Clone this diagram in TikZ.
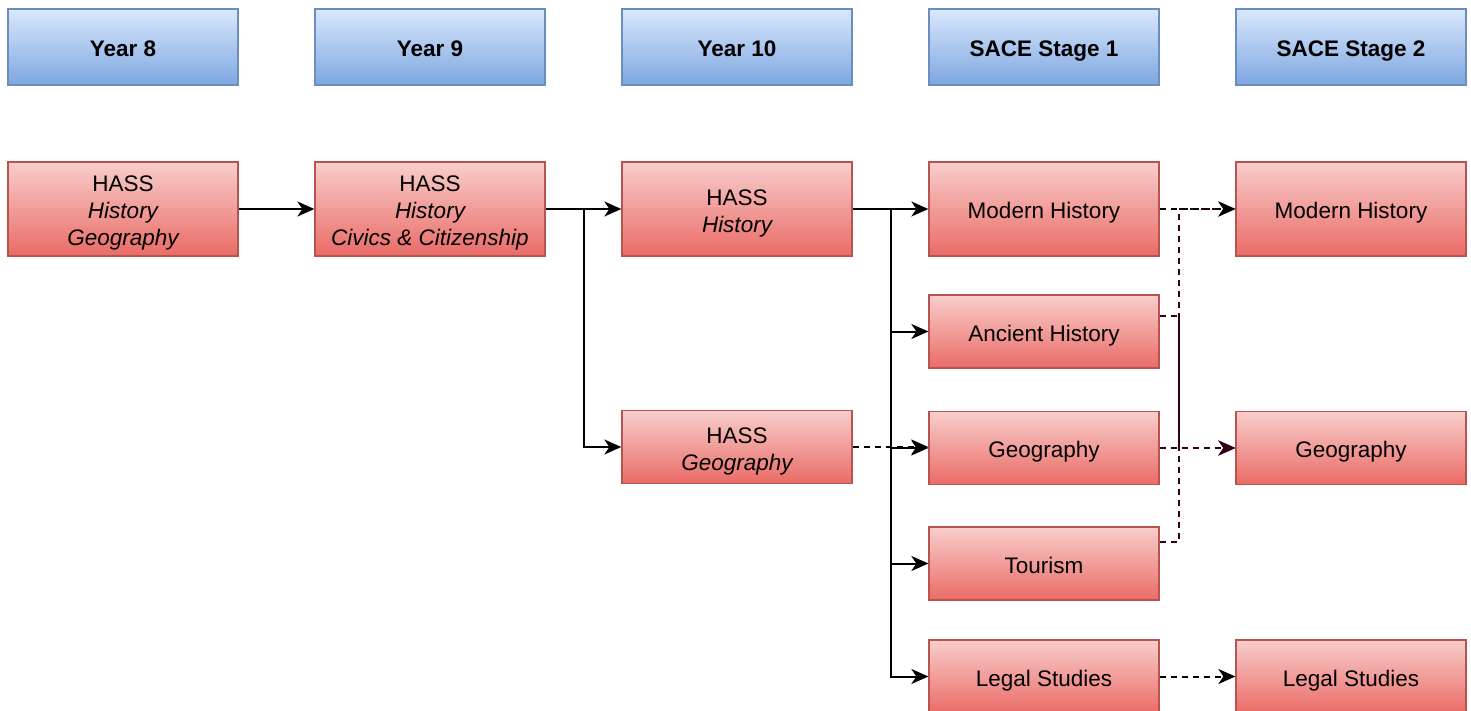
\documentclass[tikz,border=0pt]{standalone}
\usepackage{fontspec}
\setmainfont{Liberation Sans}
\usetikzlibrary{arrows.meta}
\definecolor{redtop}{HTML}{F8CECC}
\definecolor{redbot}{HTML}{EA6B66}
\definecolor{redline}{HTML}{B85450}
\definecolor{bluetop}{HTML}{DAE8FC}
\definecolor{bluebot}{HTML}{7EA6E0}
\definecolor{blueline}{HTML}{6C8EBF}
\definecolor{maroon}{HTML}{33001A}
\newcommand{\mytopst}{\rule{0pt}{24pt}}
\newcommand{\mybotst}{\rule[-4pt]{0pt}{4pt}}
\tikzset{
  box/.style={minimum width=230pt, inner sep=0pt, align=center, line width=1.3pt,
    font=\fontsize{22.5}{27}\selectfont},
  hdr/.style={box, draw=blueline, top color=bluetop, bottom color=bluebot,
    minimum height=76pt, font=\fontsize{22.5}{27}\selectfont\bfseries},
  subj/.style={box, draw=redline, top color=redtop, bottom color=redbot},
  conn/.style={line width=2pt, -{Stealth[length=17pt,width=15pt,inset=5pt]}},
  dconn/.style={conn, dash pattern=on 6pt off 5pt}
}
\begin{document}
\begin{tikzpicture}[x=1pt,y=-1pt]
\useasboundingbox (0,0) rectangle (1471,711);
% headers
\node[hdr] (h8)  at (123,47) {\mytopst Year 8\mybotst};
\node[hdr] (h9)  at (430,47) {\mytopst Year 9\mybotst};
\node[hdr] (h10) at (737,47) {\mytopst Year 10\mybotst};
\node[hdr] (hs1) at (1044,47) {\mytopst SACE Stage 1\mybotst};
\node[hdr] (hs2) at (1351,47) {\mytopst SACE Stage 2\mybotst};
% subjects
\node[subj, minimum height=94pt] (y8) at (123,209) {\mytopst HASS\\\itshape History\\\itshape Geography\mybotst};
\node[subj, minimum height=94pt] (y9) at (430,209) {\mytopst HASS\\\itshape History\\\itshape Civics \& Citizenship\mybotst};
\node[subj, minimum height=94pt] (y10h) at (737,209) {\mytopst HASS\\\itshape History\mybotst};
\node[subj, minimum height=73pt] (y10g) at (737,447) {\mytopst HASS\\\itshape Geography\mybotst};
\node[subj, minimum height=94pt] (s1mod) at (1044,209) {\mytopst Modern History\mybotst};
\node[subj, minimum height=73pt] (s1anc) at (1044,331.5) {\mytopst Ancient History\mybotst};
\node[subj, minimum height=73pt] (s1geo) at (1044,448) {\mytopst Geography\mybotst};
\node[subj, minimum height=73pt] (s1tour) at (1044,563.5) {\mytopst Tourism\mybotst};
\node[subj, minimum height=73pt] (s1leg) at (1044,676.5) {\mytopst Legal Studies\mybotst};
\node[subj, minimum height=94pt] (s2mod) at (1351,209) {\mytopst Modern History\mybotst};
\node[subj, minimum height=73pt] (s2geo) at (1351,448) {\mytopst Geography\mybotst};
\node[subj, minimum height=73pt] (s2leg) at (1351,676.5) {\mytopst Legal Studies\mybotst};
% junctions
\coordinate (j1) at (584,209);
\coordinate (j2) at (891,209);
\coordinate (ja) at (1179,316);
\coordinate (jt) at (1179,541.5);
% connectors
\draw[conn] (y8.east) -- (y9.west);
\draw[conn] (y9.east) -- (y10h.west);
\draw[conn] (j1) |- (y10g.west);
\draw[dconn] (y10g.east) -- (s1geo.west |- y10g.east);
\draw[conn] (y10h.east) -- (s1mod.west);
\draw[conn] (j2) |- (s1anc.west);
\draw[conn] (j2) |- (s1geo.west);
\draw[conn] (j2) |- (s1tour.west);
\draw[conn] (j2) |- (s1leg.west);
% stage 1 -> stage 2
\draw[dconn, maroon] (s1tour.east |- jt) -- (jt) |- (s2mod.west);
\draw[dconn, maroon] (s1anc.east |- ja) -- (ja) |- (s2geo.west);
\draw[dconn] (s1mod.east) -- (s2mod.west);
\draw[dconn, maroon] (s1geo.east) -- (s2geo.west);
\draw[dconn] (s1leg.east) -- (s2leg.west);
\end{tikzpicture}
\end{document}
